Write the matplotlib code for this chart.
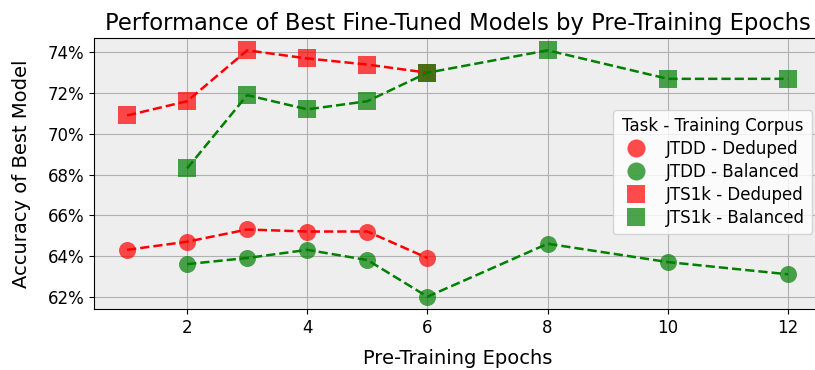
import numpy as np
import matplotlib
matplotlib.use('Agg')
import matplotlib.pyplot as plt
from matplotlib.ticker import PercentFormatter
from matplotlib.lines import Line2D

# epochs and best-model accuracy (fractions)
jtdd_ded_epochs = [1, 2, 3, 4, 5, 6]
jtdd_ded_acc = [0.643, 0.647, 0.653, 0.652, 0.652, 0.639]

jtdd_bal_epochs = [2, 3, 4, 5, 6, 8, 10, 12]
jtdd_bal_acc = [0.636, 0.639, 0.643, 0.638, 0.620, 0.646, 0.637, 0.631]

jts_ded_epochs = [1, 2, 3, 4, 5, 6]
jts_ded_acc = [0.709, 0.716, 0.741, 0.737, 0.734, 0.730]

jts_bal_epochs = [2, 3, 4, 5, 6, 8, 10, 12]
jts_bal_acc = [0.683, 0.719, 0.712, 0.716, 0.730, 0.741, 0.727, 0.727]

series = [
    ("JTDD - Deduped", jtdd_ded_epochs, jtdd_ded_acc, 'red', 'o'),
    ("JTDD - Balanced", jtdd_bal_epochs, jtdd_bal_acc, 'green', 'o'),
    ("JTS1k - Deduped", jts_ded_epochs, jts_ded_acc, 'red', 's'),
    ("JTS1k - Balanced", jts_bal_epochs, jts_bal_acc, 'green', 's'),
]

fig = plt.figure(figsize=(8.15, 3.7), dpi=100)
ax = fig.add_axes([94/815, 1 - 309/370, (821 - 94)/815, (309 - 38)/370])
ax.set_facecolor('#eeeeee')
ax.grid(True, color='#b0b0b0', linewidth=0.8)
ax.set_axisbelow(True)

handles = []
for label, xs, ys, col, mk in series:
    ax.scatter(xs, ys, s=150, color=col, marker=mk, alpha=0.7, linewidths=0)
    ax.plot(xs, ys, linestyle='--', color=col, linewidth=1.8)
    handles.append(Line2D([], [], linestyle='none', marker=mk, markersize=13,
                          markerfacecolor=col, markeredgewidth=0, alpha=0.7,
                          label=label))

ax.yaxis.set_major_formatter(PercentFormatter(1.0, decimals=0))
ax.set_xticks([2, 4, 6, 8, 10, 12])
ax.tick_params(labelsize=12)
ax.set_xlabel('Pre-Training Epochs', fontsize=14, labelpad=9)
ax.set_ylabel('Accuracy of Best Model', fontsize=14, labelpad=12)
ax.set_title('Performance of Best Fine-Tuned Models by Pre-Training Epochs',
             fontsize=16.3, pad=6)

ax.legend(handles=handles, title='Task - Training Corpus', loc='center right',
          bbox_to_anchor=(812/815, 0.535), bbox_transform=fig.transFigure,
          fontsize=12, title_fontsize=12, borderaxespad=0.0,
          handletextpad=0.8, labelspacing=0.3)

fig.savefig('out.png', dpi=100)
